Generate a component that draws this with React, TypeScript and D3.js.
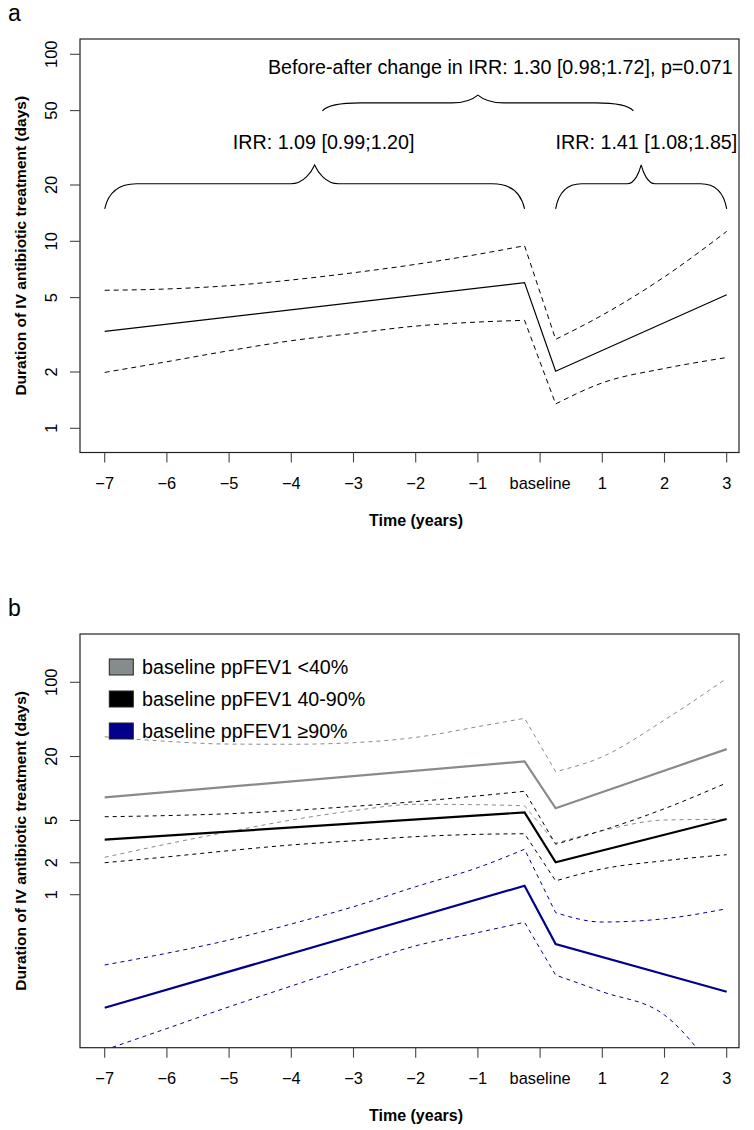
import React from 'react';
import * as d3 from 'd3';

// ---------- axes ----------
const xTickValues = [-7, -6, -5, -4, -3, -2, -1, 0, 1, 2, 3];
const xTickLabels = ['\u22127', '\u22126', '\u22125', '\u22124', '\u22123', '\u22122', '\u22121', 'baseline', '1', '2', '3'];
const yTicksA = [1, 2, 5, 10, 20, 50, 100];
const yTicksB = [1, 2, 5, 20, 100];

// ---------- time points ----------
const preYears = [-7, -6, -5, -4, -3, -2, -1, -0.25];
const preEnds = [-7, -0.25];
const postYears = [0.25, 1, 2, 3];
const postEnds = [0.25, 3];

// ---------- panel a: all patients ----------
const allPreMean = [3.3, 6.01];
const allPreUpper = [5.47, 5.56, 5.79, 6.21, 6.79, 7.53, 8.52, 9.47];
const allPreLower = [1.99, 2.27, 2.6, 2.94, 3.22, 3.52, 3.7, 3.78];
const allPostMean = [2.02, 5.18];
const allPostUpper = [2.99, 4.03, 6.46, 11.3];
const allPostLower = [1.35, 1.75, 2.09, 2.39];

// ---------- panel b: by baseline ppFEV1 ----------
const lowPreMean = [8.26, 18.0];
const lowPreUpper = [30.7, 27.8, 26.2, 26.1, 27.0, 30.3, 38.2, 45.8];
const lowPreLower = [2.25, 3.0, 3.92, 5.05, 6.18, 7.1, 7.04, 6.88];
const lowPostMean = [6.51, 23.5];
const lowPostUpper = [14.4, 19.9, 44.2, 109];
const lowPostLower = [3.05, 4.0, 5.05, 5.13];

const midPreMean = [3.3, 5.95];
const midPreUpper = [5.42, 5.56, 5.79, 6.21, 6.79, 7.53, 8.52, 9.41];
const midPreLower = [2.0, 2.27, 2.6, 2.94, 3.22, 3.52, 3.7, 3.75];
const midPostMean = [2.02, 5.16];
const midPostUpper = [2.99, 4.03, 6.46, 11.3];
const midPostLower = [1.35, 1.75, 2.09, 2.38];

const highPreMean = [0.0863, 1.215];
const highPreUpper = [0.218, 0.281, 0.3745, 0.53, 0.771, 1.19, 1.8, 2.68];
const highPreLower = [0.0345, 0.055, 0.088, 0.138, 0.215, 0.33, 0.44, 0.55];
const highPostMean = [0.343, 0.122];
const highPostUpper = [0.677, 0.553, 0.594, 0.738];
const highPostLower = [0.175, 0.122, 0.0736, 0.015];

const legendLabels = ['baseline ppFEV1 <40%', 'baseline ppFEV1 40-90%', 'baseline ppFEV1 \u226590%'];
const groupColors = ['#858c8b', '#000000', '#00008b'];

// ---------- panel a annotations (data units) ----------
const annoTexts = [
  { text: 'Before-after change in IRR: 1.30 [0.98;1.72], p=0.071', x: -0.64, y: 78.5 },
  { text: 'IRR: 1.09 [0.99;1.20]', x: -3.48, y: 31 },
  { text: 'IRR: 1.41 [1.08;1.85]', x: 1.71, y: 31 },
];
const braces = [
  { x0: -7, x1: -0.25, yEnd: 14.9, yFlat: 20.3, yTip: 25.6, endW: 32, tipW: 24 },
  { x0: 0.25, x1: 3, yEnd: 14.9, yFlat: 20.3, yTip: 25.6, endW: 26, tipW: 14 },
  { x0: -3.5, x1: 1.5, yEnd: 49.8, yFlat: 55, yTip: 60.5, endW: 38, tipW: 26 },
];

const FONT = '"Liberation Sans", Arial, Helvetica, sans-serif';
const BOX_L = 80;
const BOX_R = 739;

const xScale = d3.scaleLinear().domain([-7, 3]).range([104.7, 726.7]);
const yScaleA = d3.scaleLog().domain([1, 100]).range([428.3, 54.3]);
const yScaleB = d3.scaleLog().domain([1, 100]).range([894.7, 682.3]);

function bracePath(x0: number, x1: number, yEnd: number, yFlat: number, yTip: number, endW: number, tipW: number) {
  const xm = (x0 + x1) / 2;
  const k = 0.55;
  const dy = yEnd - yFlat;
  const th = yFlat - yTip;
  return [
    `M${x0},${yEnd}`,
    `C${x0 + endW * 0.12},${yFlat + dy * 0.3} ${x0 + endW * (1 - k)},${yFlat} ${x0 + endW},${yFlat}`,
    `L${xm - tipW},${yFlat}`,
    `C${xm - tipW * (1 - k)},${yFlat} ${xm - tipW * 0.12},${yTip + th * 0.35} ${xm},${yTip}`,
    `C${xm + tipW * 0.12},${yTip + th * 0.35} ${xm + tipW * (1 - k)},${yFlat} ${xm + tipW},${yFlat}`,
    `L${x1 - endW},${yFlat}`,
    `C${x1 - endW * (1 - k)},${yFlat} ${x1 - endW * 0.12},${yFlat + dy * 0.3} ${x1},${yEnd}`,
  ].join(' ');
}

type Pt = [number, number];

function seriesPath(yScale: any, preX: number[], preY: number[], postX: number[], postY: number[], smooth: boolean) {
  const gen = d3
    .line<Pt>()
    .x((d) => xScale(d[0]))
    .y((d) => yScale(d[1]))
    .curve(smooth ? d3.curveMonotoneX : d3.curveLinear);
  const pre = gen(preX.map((x, i) => [x, preY[i]] as Pt)) || '';
  const post = gen(postX.map((x, i) => [x, postY[i]] as Pt)) || '';
  return pre + post.replace(/^M/, 'L');
}

function Axes({ yScale, boxTop, boxBottom, yTicks, letter }: any) {
  const labelY = boxBottom + 36;
  const titleY = boxBottom + 73.5;
  const yMid = (boxTop + boxBottom) / 2;
  return (
    <g fontFamily={FONT}>
      <text x={8} y={boxTop - 18} fontSize={23} fill="#000">{letter}</text>
      <rect x={BOX_L} y={boxTop} width={BOX_R - BOX_L} height={boxBottom - boxTop} fill="none" stroke="#222" strokeWidth={1.2} />
      {xTickValues.map((v, i) => (
        <g key={'xt' + i}>
          <line x1={xScale(v)} x2={xScale(v)} y1={boxBottom} y2={boxBottom + 10} stroke="#444" strokeWidth={1.1} />
          <text x={xScale(v)} y={labelY} fontSize={16.4} textAnchor="middle" fill="#000">{xTickLabels[i]}</text>
        </g>
      ))}
      {yTicks.map((v: number) => (
        <g key={'yt' + v}>
          <line x1={BOX_L - 10} x2={BOX_L} y1={yScale(v)} y2={yScale(v)} stroke="#444" strokeWidth={1.1} />
          <text transform={`translate(57,${yScale(v)}) rotate(-90)`} fontSize={16.4} textAnchor="middle" fill="#000">{String(v)}</text>
        </g>
      ))}
      <text x={416} y={titleY} fontSize={16} fontWeight="bold" textAnchor="middle" fill="#000">Time (years)</text>
      <text transform={`translate(26,${yMid}) rotate(-90)`} fontSize={15.5} fontWeight="bold" textAnchor="middle" fill="#000">
        Duration of IV antibiotic treatment (days)
      </text>
    </g>
  );
}

function Group({ yScale, color, preMean, preUpper, preLower, postMean, postUpper, postLower, solidW, dash }: any) {
  return (
    <g fill="none">
      <path d={seriesPath(yScale, preYears, preUpper, postYears, postUpper, true)} stroke={color} strokeWidth={1} strokeDasharray={dash} />
      <path d={seriesPath(yScale, preYears, preLower, postYears, postLower, true)} stroke={color} strokeWidth={1} strokeDasharray={dash} />
      <path d={seriesPath(yScale, preEnds, preMean, postEnds, postMean, false)} stroke={color} strokeWidth={solidW} strokeLinejoin="miter" />
    </g>
  );
}

export default function App() {
  const aTop = 39, aBottom = 452.5;
  const bTop = 634, bBottom = 1047.7;
  return (
    <svg width={754} height={1130} style={{ position: 'absolute', left: 0, top: 0, background: '#fff' }}>
      <rect x={0} y={0} width={754} height={1130} fill="#fff" />
      <defs>
        <clipPath id="clipA"><rect x={BOX_L} y={aTop} width={BOX_R - BOX_L} height={aBottom - aTop} /></clipPath>
        <clipPath id="clipB"><rect x={BOX_L} y={bTop} width={BOX_R - BOX_L} height={bBottom - bTop} /></clipPath>
      </defs>

      {/* Panel a */}
      <Axes yScale={yScaleA} boxTop={aTop} boxBottom={aBottom} yTicks={yTicksA} letter="a" />
      <g clipPath="url(#clipA)">
        <Group yScale={yScaleA} color="#000" preMean={allPreMean} preUpper={allPreUpper} preLower={allPreLower}
          postMean={allPostMean} postUpper={allPostUpper} postLower={allPostLower} solidW={1.2} dash="5,4" />
        {braces.map((b, i) => (
          <path key={'br' + i}
            d={bracePath(xScale(b.x0), xScale(b.x1), yScaleA(b.yEnd), yScaleA(b.yFlat), yScaleA(b.yTip), b.endW, b.tipW)}
            fill="none" stroke="#000" strokeWidth={1.1} />
        ))}
        {annoTexts.map((t, i) => (
          <text key={'at' + i} x={xScale(t.x)} y={yScaleA(t.y)} fontFamily={FONT} fontSize={19.7} textAnchor="middle" fill="#000">{t.text}</text>
        ))}
      </g>

      {/* Panel b */}
      <Axes yScale={yScaleB} boxTop={bTop} boxBottom={bBottom} yTicks={yTicksB} letter="b" />
      <g clipPath="url(#clipB)">
        <Group yScale={yScaleB} color={groupColors[0]} preMean={lowPreMean} preUpper={lowPreUpper} preLower={lowPreLower}
          postMean={lowPostMean} postUpper={lowPostUpper} postLower={lowPostLower} solidW={2.2} dash="4,4" />
        <Group yScale={yScaleB} color={groupColors[1]} preMean={midPreMean} preUpper={midPreUpper} preLower={midPreLower}
          postMean={midPostMean} postUpper={midPostUpper} postLower={midPostLower} solidW={2.2} dash="4,4" />
        <Group yScale={yScaleB} color={groupColors[2]} preMean={highPreMean} preUpper={highPreUpper} preLower={highPreLower}
          postMean={highPostMean} postUpper={highPostUpper} postLower={highPostLower} solidW={2.2} dash="4,4" />
      </g>
      <g fontFamily={FONT}>
        {legendLabels.map((l, i) => (
          <g key={'lg' + i}>
            <rect x={109.3} y={659 + i * 32} width={24} height={16} fill={groupColors[i]} stroke="#222" strokeWidth={1} />
            <text x={142} y={673.5 + i * 32} fontSize={19.7} fill="#000">{l}</text>
          </g>
        ))}
      </g>
    </svg>
  );
}
